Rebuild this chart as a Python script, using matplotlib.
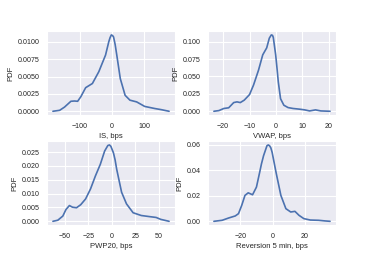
import numpy as np
import seaborn as sns
from matplotlib import pyplot as plt
from matplotlib.ticker import FormatStrFormatter

# Values
is_x = [-184, -163, -148, -128, -117, -107, -97, -82, -61, -41, -20, -10, -6, -2, 2, 5, 10, 15, 26, 41, 56,
        77, 102, 133, 153, 178]
is_y = [0.0, 0.00014, 0.0006, 0.00144, 0.00148, 0.00144, 0.0021, 0.0034, 0.0040, 0.0057, 0.0081, 0.0100,
        0.0106, 0.0110, 0.0109, 0.0107, 0.0096, 0.0081, 0.0047, 0.0023, 0.0016, 0.00135, 0.0007, 0.0004,
        0.00024, 0.0]

vwap_x = [-23.5, -21.6, -19.75, -17.9, -16, -14.75, -13.5, -12, -10, -8.5, -6.6, -5, -3.5, -2.5, -1.75,
          -1.3, -1, -0.1, 0.4, 0.9, 1.75, 3, 4.6, 6.5, 9, 10.9, 12.75, 15, 17, 20.5]
vwap_y = [0.0, 0.001, 0.004, 0.005, 0.0125, 0.0135, 0.0125, 0.016, 0.024, 0.0375, 0.059, 0.081, 0.091,
          0.105, 0.1096, 0.109, 0.106, 0.081, 0.062, 0.042, 0.018, 0.0087, 0.0053, 0.004, 0.003, 0.002,
          0.0005, 0.002, 0.0005, 0.0]

pwp_x = [-62.5, -57.3, -52, -48.6, -45, -41.7, -37.5, -33, -27.8, -22.6, -17.4, -12.2, -7.6, -4.2, -2.5,
         -1, 1.7, 3.5, 5.2, 10.4, 15.6, 22.6, 31.25, 40, 47, 52, 60.8]
pwp_y = [0.0, 0.0004, 0.0019, 0.0043, 0.0057, 0.0051, 0.0049, 0.006, 0.0081, 0.0117, 0.0164, 0.0206,
         0.0254, 0.0274, 0.0276, 0.0271, 0.0248, 0.0222, 0.0188, 0.0105, 0.0063, 0.0031, 0.0021, 0.0017,
         0.0014, 0.0007, 0.0]

rev_x = [-36.4, -31.3, -27.3, -23.2, -21.2, -19.2, -17.2, -15.2, -12.5, -10.1, -8.1, -7, -5.7, -3.6,
         -2.8, -2, -1.2, -0.4, 2, 5, 8.1, 11.1, 13.7, 16.2, 19.2, 23.2, 28.3, 32.3, 35.4]
rev_y = [0.0, 0.0008, 0.0026, 0.0042, 0.006, 0.0125, 0.0203, 0.0223, 0.0208, 0.0268, 0.0384, 0.045,
         0.0514, 0.0592, 0.0598, 0.0592, 0.0575, 0.054, 0.0384, 0.0203, 0.0099, 0.0073, 0.0078, 0.0047,
         0.0021, 0.001, 0.0008, 0.0003, 0.0]

labels = ['IS, bps', 'VWAP, bps', 'PWP20, bps', 'Reversion 5 min, bps']
yticks = [[0, 0.0025, 0.005, 0.0075, 0.01],
          [0, 0.025, 0.05, 0.075, 0.1],
          [0, 0.005, 0.01, 0.015, 0.02, 0.025],
          [0, 0.02, 0.04, 0.06]]
yfmt = ['%.4f', '%.3f', '%.3f', '%.2f']

sns.set_style('darkgrid')
plt.rcParams['font.family'] = ['Liberation Sans', 'DejaVu Sans']

fig, axes = plt.subplots(2, 2, figsize=(3.74, 2.57), dpi=100)
fig.subplots_adjust(left=0.126, right=0.898, top=0.879, bottom=0.124, wspace=0.26, hspace=0.31)

series = [(is_x, is_y), (vwap_x, vwap_y), (pwp_x, pwp_y), (rev_x, rev_y)]
for ax, (x, y), lab, yt, fmt in zip(axes.flat, series, labels, yticks, yfmt):
    ax.plot(x, y, color='#4c72b0', lw=1.2)
    ax.set_xlabel(lab, fontsize=5.5, labelpad=2)
    ax.set_ylabel('PDF', fontsize=5.5, labelpad=2)
    ax.set_yticks(yt)
    ax.yaxis.set_major_formatter(FormatStrFormatter(fmt))
    ax.tick_params(labelsize=5.1, pad=2)
    ax.grid(color='white', lw=0.8)

axes[0, 0].set_xticks([-100, 0, 100])
axes[0, 1].set_xticks([-20, -10, 0, 10, 20])
axes[1, 0].set_xticks([-50, -25, 0, 25, 50])
axes[1, 1].set_xticks([-20, 0, 20])

fig.savefig('out.png', dpi=100)
